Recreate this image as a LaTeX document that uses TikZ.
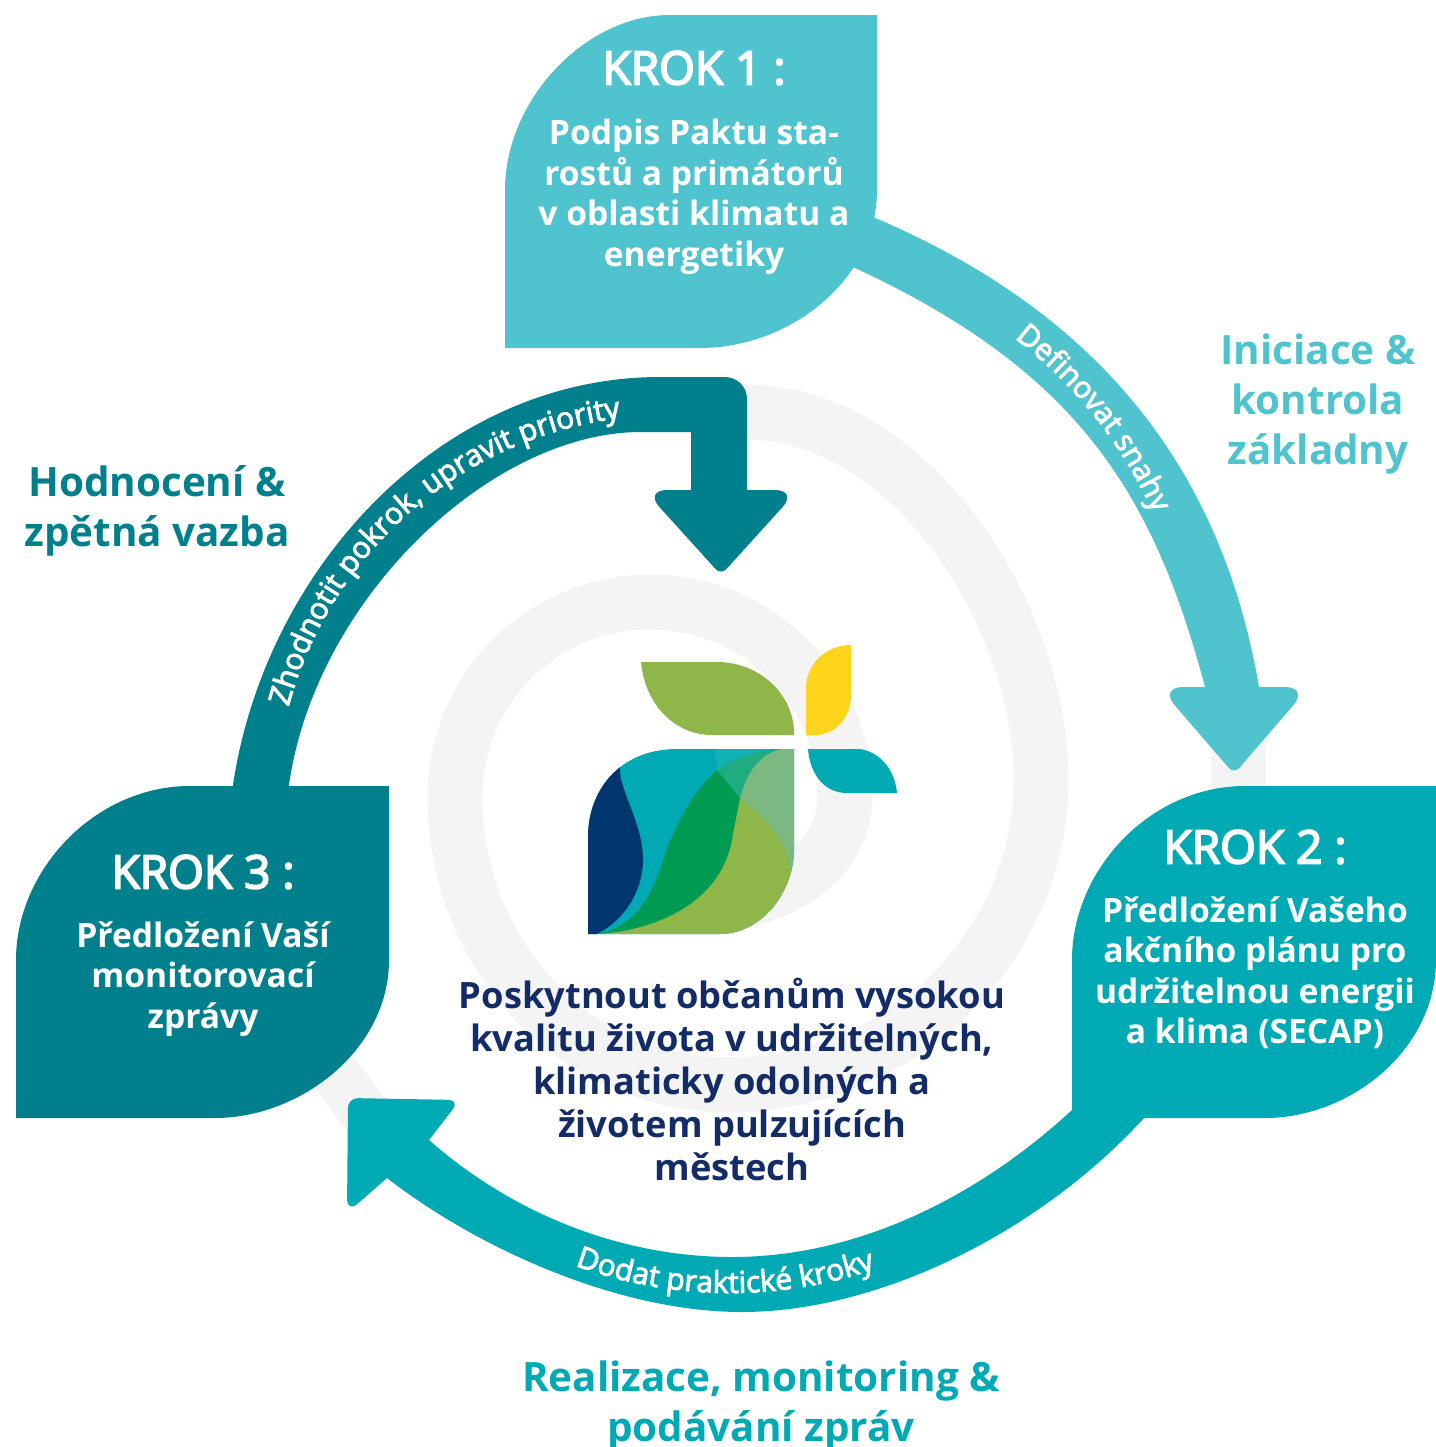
\documentclass[tikz,border=0pt]{standalone}
\usepackage{fontspec}
\setmainfont{Open Sans}
\newfontfamily\krokfont[FakeBold=4]{Open Sans}
\newfontfamily\labelfont[FakeBold=3]{Open Sans}
\definecolor{cdark}{HTML}{00808C}
\definecolor{clight}{HTML}{50C4CE}
\definecolor{cmid}{HTML}{00AAB5}
\definecolor{cnavy}{HTML}{132C68}
\definecolor{cring}{HTML}{F4F4F4}
\definecolor{lnavy}{HTML}{00366F}
\definecolor{lgreen}{HTML}{009A50}
\definecolor{lolive}{HTML}{8FB649}
\definecolor{lpale}{HTML}{7CB982}
\definecolor{lmixg}{HTML}{1FAC7F}
\definecolor{lmixt}{HTML}{12B1B4}
\definecolor{lyellow}{HTML}{FFD41C}
\tikzset{
  ringband/.style={draw=cring,line width=13.75pt,line cap=butt},
  krok/.style={text=white,align=center,font=\krokfont\fontsize{11.5}{12.5}\selectfont},
  boxtext/.style={text=white,align=center,font=\bfseries\fontsize{8.4}{10.125}\selectfont},
  heading/.style={align=center,font=\bfseries\fontsize{10.1}{12.5}\selectfont},
  goal/.style={text=cnavy,align=center,font=\bfseries\fontsize{9.07}{10.75}\selectfont},
  arcletter/.style={anchor=base,inner sep=0pt,text=white,font=\lblfont},
}
\newcommand{\lblfont}{\labelfont\fontsize{7.5}{8.5}\selectfont}
\newlength{\chw}
\newcommand{\measurech}[1]{\pgfinterruptpicture\settowidth{\chw}{\lblfont #1}\global\chw=\chw\endpgfinterruptpicture}
% centre x, centre y, radius, middle angle, direction (1 clockwise, -1 anticlockwise), letters
\newcommand{\arclabel}[6]{%
  \gdef\arcsum{0}%
  \foreach \ch in {#6}{\measurech{\ch}\pgfmathsetmacro\arctmp{\arcsum+\chw*4}\global\let\arcsum\arctmp}%
  \pgfmathsetmacro\arctmp{#4-(#5)*\arcsum/2/#3*57.2958}\global\let\arcang\arctmp
  \foreach \ch in {#6}{%
    \measurech{\ch}%
    \pgfmathsetmacro\arcmid{\arcang+(#5)*\chw*2/#3*57.2958}%
    \pgfmathsetmacro\arcrot{-\arcmid-(#5)*90}%
    \node[arcletter,rotate=\arcrot] at ({#1+#3*cos(\arcmid)},{#2+#3*sin(\arcmid)}) {\ch};
    \pgfmathsetmacro\arctmp{\arcang+(#5)*\chw*4/#3*57.2958}\global\let\arcang\arctmp
  }%
}
\begin{document}
\begin{tikzpicture}[x=.25pt,y=-.25pt]
\useasboundingbox (0,0) rectangle (1436,1447);
% grey spiral
\draw[ringband] (700,905) .. controls (780,905) and (845,860) .. (845,797) .. controls (845,689) and (758,602) .. (650,602) .. controls (542,602) and (455,689) .. (455,797) .. controls (455,956) and (577,1085) .. (728,1085) .. controls (900,1085) and (1041,948) .. (1041,780) .. controls (1041,614) and (910,412) .. (745,412) -- (690,412);
\draw[ringband] (1238,740) -- (1238,800);
\draw[ringband,line width=12.5pt] (310,1040) -- (385,1140);
% arrows
\fill[clight] (850,205) -- (873,217) .. controls (1100,313) and (1222,470) .. (1259,687) [rounded corners=6pt] -- (1309,687) [rounded corners=2pt] -- (1234,774) [rounded corners=6pt] -- (1159,687) [sharp corners] -- (1205,687) .. controls (1154,496) and (1080,372) .. (855,268) -- (830,258) -- cycle;
\fill[cdark] (233,800) -- (233,785) .. controls (265,570) and (440,377) .. (660,377) [rounded corners=5.5pt] -- (747,377) [sharp corners] -- (747,490) [rounded corners=5.75pt] -- (798,490) [rounded corners=2pt] -- (721,575) [rounded corners=5.75pt] -- (644,490) [sharp corners] -- (691,490) -- (691,432) -- (641,432) .. controls (490,432) and (315,600) .. (289,785) -- (289,800) -- cycle;
\fill[cmid] (1160,1100) .. controls (1050,1230) and (880,1312) .. (742,1312) .. controls (620,1312) and (480,1250) .. (387,1178) [rounded corners=3.5pt] -- (347,1213) [rounded corners=2.5pt] -- (348,1098) [rounded corners=3pt] -- (460,1100) [sharp corners] -- (429,1140) .. controls (520,1220) and (630,1257) .. (732,1257) .. controls (860,1257) and (980,1195) .. (1072,1110) -- (1090,1090) -- cycle;
% boxes
\fill[clight] (505,348) -- (505,190) .. controls (505,100) and (585,15) .. (670,15) -- (877,15) -- (877,190) .. controls (877,280) and (790,348) .. (700,348) -- cycle;
\fill[cmid] (1072,1118) -- (1072,960) .. controls (1072,870) and (1150,786) .. (1245,786) -- (1436,786) -- (1436,960) .. controls (1436,1050) and (1350,1118) .. (1265,1118) -- cycle;
\fill[cdark] (16,1118) -- (16,960) .. controls (16,870) and (95,786) .. (190,786) -- (389,786) -- (389,960) .. controls (389,1050) and (300,1118) .. (215,1118) -- cycle;
% logo
\fill[lolive] (641,662) -- (717,662) .. controls (760,662) and (795,695) .. (794,735) -- (712,735) .. controls (675,735) and (645,705) .. (641,662) -- cycle;
\fill[lyellow] (851,645) -- (851,695) .. controls (851,718) and (835,735) .. (815,735) -- (806,735) -- (806,688) .. controls (806,665) and (825,645) .. (851,645) -- cycle;
\fill[cmid] (808,749) -- (860,749) .. controls (880,752) and (895,770) .. (897,793) -- (847,793) .. controls (825,793) and (810,775) .. (808,749) -- cycle;
\begin{scope}
\clip (588,934) -- (588,837) .. controls (588,790) and (620,749) .. (677,749) -- (794,749) -- (794,853) .. controls (792,895) and (760,934) .. (720,934) -- cycle;
\fill[cmid] (580,740) rectangle (800,940);
\fill[lmixt] (715,745) -- (785,745) -- (733,760) -- (717,772) -- cycle;
\fill[lnavy] (580,740) -- (620,740) -- (620,772) .. controls (622,795) and (643,825) .. (643,860) .. controls (643,890) and (625,920) .. (597,934) -- (580,940) -- cycle;
\fill[lolive] (740,798) .. controls (770,820) and (790,845) .. (790,868) -- (800,868) -- (800,940) -- (590,940) -- (597,934) .. controls (660,930) and (720,900) .. (733,833) -- cycle;
\fill[lgreen] (717,770) .. controls (690,795) and (680,820) .. (667,847) .. controls (655,890) and (640,925) .. (597,934) .. controls (660,930) and (725,900) .. (733,833) -- (740,798) -- cycle;
\fill[lpale] (794,749) -- (782,749) .. controls (760,752) and (745,775) .. (740,798) .. controls (770,820) and (788,845) .. (790,868) -- (800,868) -- (800,749) -- cycle;
\fill[lmixg] (717,770) .. controls (730,760) and (760,750) .. (782,749) .. controls (760,752) and (745,775) .. (740,798) -- cycle;
\end{scope}
% arc labels
\arclabel{737.3}{700.7}{456.4}{-38.4}{1}{D,e,f,i,n,o,v,a,t,~,s,n,a,h,y}
\arclabel{729.7}{840.6}{452.4}{90.6}{-1}{D,o,d,a,t,~,p,r,a,k,t,i,c,k,é,~,k,r,o,k,y}
\arclabel{669.1}{809}{394}{-131}{1}{Z,h,o,d,n,o,t,i,t,~,p,o,k,r,o,k,{,},~,u,p,r,a,v,i,t,~,p,r,i,o,r,i,t,y}
% texts
\node[krok] (k1) at (694,68) {KROK 1 :};
\node[boxtext] (t1) at (694,197) {Podpis Paktu sta-\\rostů a primátorů\\v oblasti klimatu a\\energetiky};
\node[krok] (k2) at (1255,847) {KROK 2 :};
\node[boxtext] (t2) at (1255,973) {Předložení Vašeho\\akčního plánu pro\\udržitelnou energii\\a klima (SECAP)};
\node[krok] (k3) at (203,872) {KROK 3 :};
\node[boxtext] (t3) at (203,979) {Předložení Vaší\\monitorovací\\zprávy};
\node[goal] (goal) at (732,1079) {Poskytnout občanům vysokou\\kvalitu života v udržitelných,\\klimaticky odolných a\\životem pulzujících\\městech};
\node[heading,text=clight] (h1) at (1318,404) {Iniciace \&\\kontrola\\základny};
\node[heading,text=cdark] (h3) at (157,511) {Hodnocení \&\\zpětná vazba};
\node[heading,text=cmid] (h2) at (761,1406) {Realizace, monitoring \&\\podávání zpráv};
\end{tikzpicture}
\end{document}
